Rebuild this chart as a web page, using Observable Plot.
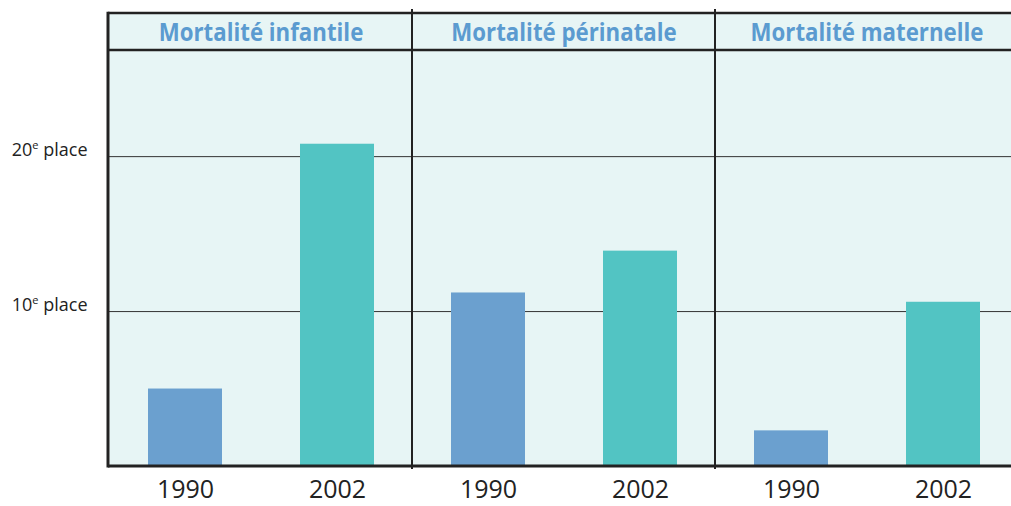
<!DOCTYPE html>
<html><head><meta charset="utf-8">
<script src="https://cdn.jsdelivr.net/npm/d3@7"></script>
<script src="https://cdn.jsdelivr.net/npm/@observablehq/plot@0.6"></script>
<style>html,body{margin:0;padding:0;background:#fff;overflow:hidden;}</style>
</head><body><div id="chart"></div>
<script>
const categories = ["Mortalité infantile", "Mortalité périnatale", "Mortalité maternelle"];
const years = ["1990", "2002"];
const rank1990 = [5.0, 11.2, 2.3];
const rank2002 = [20.8, 13.9, 10.6];
const yTicks = [10, 20];
const tickLabels = ["10e place", "20e place"];
const colors = ["#6ba0cf", "#52c4c3"];

const data = categories.flatMap((c, i) => [
  {cat: c, year: years[0], value: rank1990[i]},
  {cat: c, year: years[1], value: rank2002[i]}
]);

const W = 1018, H = 506, ML = 108, MT = 50, MB = 40, HEADER_TOP = 13;
const bg = "#e7f5f5", ink = "#222";

const chart = Plot.plot({
  width: W, height: H, marginLeft: ML, marginRight: 0, marginTop: MT, marginBottom: MB,
  style: {fontFamily: "'Open Sans', sans-serif", background: "transparent", overflow: "visible"},
  fx: {domain: categories, padding: 0, label: null},
  x: {domain: years, paddingInner: 0.516, paddingOuter: 0.249, label: null},
  y: {domain: [0, 26.85], label: null},
  color: {domain: years, range: colors},
  marks: [
    Plot.frame({fill: bg, stroke: null}),
    Plot.gridY(yTicks, {stroke: "#333", strokeOpacity: 1, strokeWidth: 1}),
    Plot.barY(data, {fx: "cat", x: "year", y: "value", fill: "year"}),
    Plot.axisY(yTicks, {tickSize: 0, tickPadding: 22, fontSize: 18, fill: ink, dy: -6,
      tickFormat: d => tickLabels[yTicks.indexOf(d)]}),
    Plot.axisX({tickSize: 0, tickPadding: 14, fontSize: 25, fill: ink}),
    Plot.axisFx({anchor: "top", tickSize: 0, tickPadding: 10, fontSize: 25, fontWeight: "bold", fill: "#5b9bd0"})
  ]
});
chart.style.maxWidth = "none";
document.getElementById("chart").appendChild(chart);

const svg = d3.select(chart);
const fx = chart.scale("fx");
const bottom = H - MB;

// header band background
svg.insert("rect", "g")
  .attr("x", ML).attr("y", HEADER_TOP).attr("width", W - ML).attr("height", MT - HEADER_TOP)
  .attr("fill", bg);

const lines = svg.append("g").attr("stroke", ink).attr("fill", "none");
lines.append("line").attr("x1", ML).attr("x2", W).attr("y1", HEADER_TOP).attr("y2", HEADER_TOP).attr("stroke-width", 2.5);
lines.append("line").attr("x1", ML).attr("x2", W).attr("y1", MT).attr("y2", MT).attr("stroke-width", 2.5);
lines.append("line").attr("x1", ML).attr("x2", ML).attr("y1", HEADER_TOP - 1.25).attr("y2", bottom + 1.5).attr("stroke-width", 3);
categories.slice(1).forEach(c => {
  const x = fx.apply(c);
  lines.append("line").attr("x1", x).attr("x2", x).attr("y1", HEADER_TOP - 4).attr("y2", bottom + 3).attr("stroke-width", 2);
});
lines.append("line").attr("x1", ML).attr("x2", W).attr("y1", bottom).attr("y2", bottom).attr("stroke-width", 3);

// condensed header labels
svg.selectAll('g[aria-label="fx-axis tick label"] text').each(function() {
  const len = this.getComputedTextLength();
  d3.select(this).attr("textLength", len * 0.89).attr("lengthAdjust", "spacingAndGlyphs");
});

// superscript "e" in y tick labels
svg.selectAll('g[aria-label="y-axis tick label"] text').each(function() {
  const t = d3.select(this);
  const m = t.text().match(/^(\d+)e(.*)$/);
  if (!m) return;
  t.text(null);
  t.append("tspan").text(m[1]);
  t.append("tspan").text("e").attr("font-size", "11").attr("dy", "-7");
  t.append("tspan").text(m[2]).attr("dy", "7");
});
</script></body></html>
